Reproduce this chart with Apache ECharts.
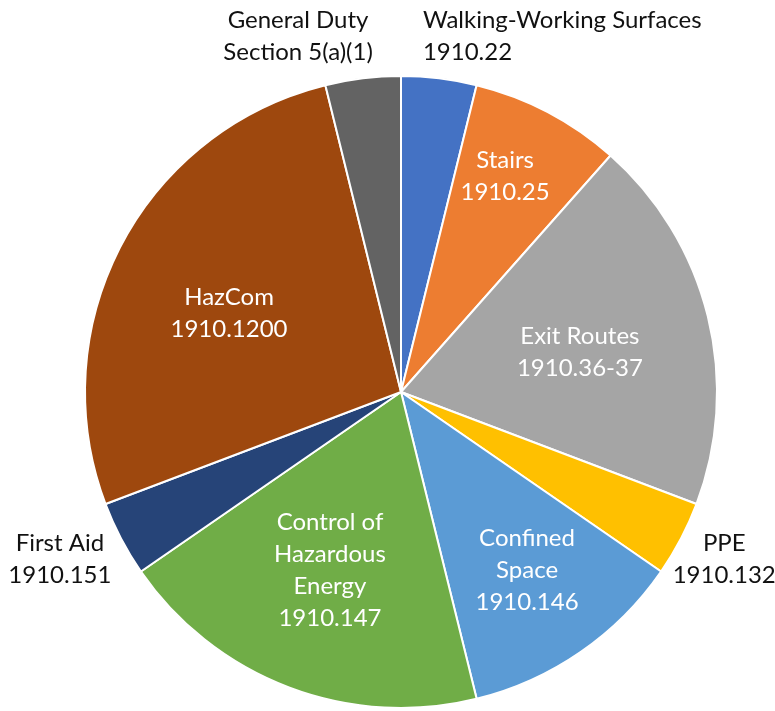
<!DOCTYPE html>
<html>
<head>
<meta charset="utf-8">
<script src="https://cdn.jsdelivr.net/npm/echarts@6/dist/echarts.min.js"></script>
<style>html,body{margin:0;padding:0;background:#fff}#c{width:775px;height:711px}</style>
</head>
<body>
<div id="c"></div>
<script>
// ---- data ----
const categories = ['Walking-Working Surfaces', 'Stairs', 'Exit Routes', 'PPE', 'Confined Space',
  'Control of Hazardous Energy', 'First Aid', 'HazCom', 'General Duty'];
const labelTexts = ['Walking-Working Surfaces\n1910.22', 'Stairs\n1910.25', 'Exit Routes\n1910.36-37',
  'PPE\n1910.132', 'Confined\nSpace\n1910.146', 'Control of\nHazardous\nEnergy\n1910.147',
  'First Aid\n1910.151', 'HazCom\n1910.1200', 'General Duty\nSection 5(a)(1)'];
const values = [1, 2, 5, 1, 3, 5, 1, 7, 1];

// ---- styles ----
const colors = ['#4472C4', '#ED7D31', '#A5A5A5', '#FFC000', '#5B9BD5', '#70AD47', '#264478', '#9E480E', '#636363'];
const labelColors = ['#111', '#fff', '#fff', '#111', '#fff', '#fff', '#111', '#fff', '#111'];
const labelRadiusFrac = [1.129, 0.757, 0.58, 1.151, 0.69, 0.606, 1.202, 0.599, 1.173];
const labelAngleOffset = [-3.4, -1.9, 1.25, -0.4, -0.7, 1.0, 1.6, -3.0, -9.2];
const labelAlign = ['left', 'center', 'center', 'center', 'center', 'center', 'center', 'center', 'center'];
const CX = 401, CY = 392, R = 316;

const total = values.reduce((a, b) => a + b, 0);
const midAngles = [];
let acc = 0;
values.forEach(v => { midAngles.push((acc + v / 2) / total * 360); acc += v; });

const chart = echarts.init(document.getElementById('c'), null, { renderer: 'canvas' });
chart.setOption({
  animation: false,
  series: [{
    type: 'pie',
    center: [CX, CY],
    radius: [0, R],
    startAngle: 90,
    clockwise: true,
    avoidLabelOverlap: false,
    itemStyle: { borderColor: '#fff', borderWidth: 2 },
    label: {
      show: true,
      position: 'inside',
      fontFamily: 'Lato',
      fontSize: 24,
      lineHeight: 32,
      formatter: p => labelTexts[p.dataIndex]
    },
    labelLine: { show: false },
    labelLayout: function (params) {
      const i = params.dataIndex;
      const a = (midAngles[i] + labelAngleOffset[i]) * Math.PI / 180;
      const d = labelRadiusFrac[i] * R;
      return {
        x: CX + d * Math.sin(a),
        y: CY - d * Math.cos(a),
        align: labelAlign[i],
        verticalAlign: 'middle'
      };
    },
    data: categories.map((c, i) => ({
      name: c,
      value: values[i],
      itemStyle: { color: colors[i] },
      label: { color: labelColors[i] }
    }))
  }]
});
</script>
</body>
</html>
